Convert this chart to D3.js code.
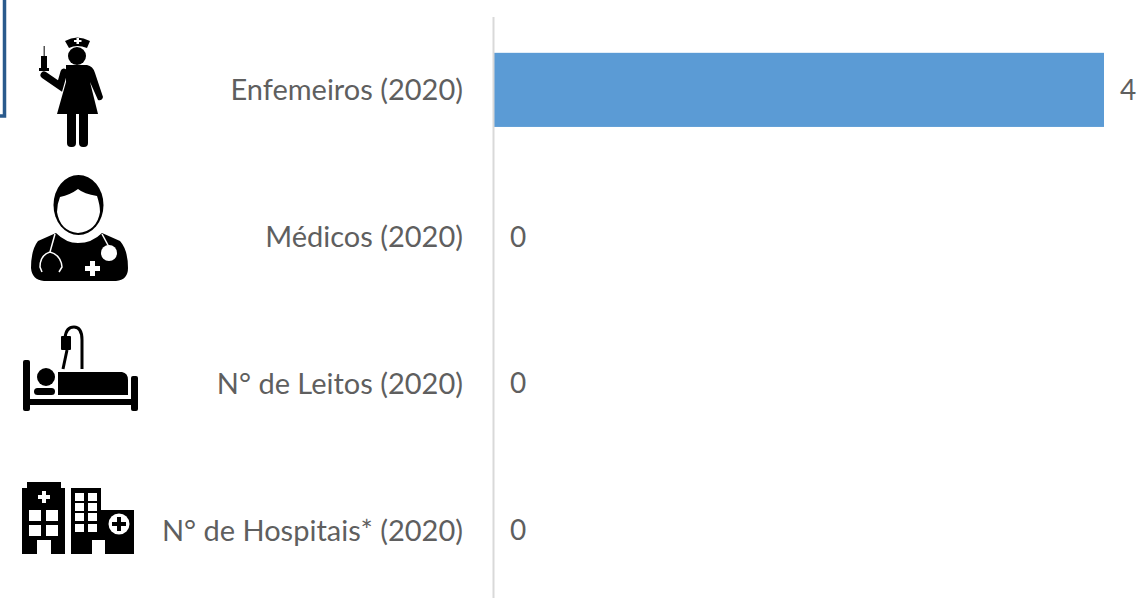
<!DOCTYPE html>
<html>
<head>
<meta charset="utf-8">
<script src="https://cdnjs.cloudflare.com/ajax/libs/d3/7.8.5/d3.min.js"></script>
<style>
  html, body { margin: 0; padding: 0; background: #fff; overflow: hidden; }
  text { font-family: Lato, "Open Sans", sans-serif; fill: #5f5f5f; }
</style>
</head>
<body>
<div id="chart"></div>
<script>
// Chart data
var categories = ["Enfemeiros (2020)", "Médicos (2020)", "N° de Leitos (2020)", "N° de Hospitais* (2020)"];
var values = [4, 0, 0, 0];

var svgWidth = 1142;
var svgHeight = 598;
var axisX = 494;

var svg = d3.select("#chart").append("svg")
  .attr("width", svgWidth)
  .attr("height", svgHeight)
  .style("display", "block");

// Scales
var xScale = d3.scaleLinear().domain([0, 4]).range([axisX, 1104]);
var yScale = d3.scaleBand().domain(categories).range([16.5, 603.5]).paddingInner(0.495).paddingOuter(0.2475);

// Bars
svg.selectAll("rect.bar")
  .data(values)
  .enter()
  .append("rect")
  .attr("class", "bar")
  .attr("x", xScale(0))
  .attr("y", (d, i) => yScale(categories[i]))
  .attr("width", d => xScale(d) - xScale(0))
  .attr("height", yScale.bandwidth())
  .attr("fill", "#5b9bd5");

// Category axis
var leftAxis = d3.axisLeft(yScale).tickSize(0).tickPadding(30);
var axisGroup = svg.append("g")
  .attr("transform", `translate(${axisX - 1}, 0)`)
  .call(leftAxis);
axisGroup.select(".domain").attr("stroke", "#d9d9d9").attr("stroke-width", 2);
axisGroup.selectAll("text")
  .style("font-size", "29px")
  .attr("dy", "0.36em");

// Value labels
svg.selectAll("text.value")
  .data(values)
  .enter()
  .append("text")
  .attr("class", "value")
  .attr("x", d => xScale(d) + 16)
  .attr("y", (d, i) => yScale(categories[i]) + yScale.bandwidth() / 2)
  .attr("dy", "0.36em")
  .style("font-size", "28px")
  .text(d => d);

// Corner of the neighbouring box, cut by the crop
svg.append("path")
  .attr("d", "M4.5,0V116H0")
  .attr("fill", "none")
  .attr("stroke", "#2a5a8c")
  .attr("stroke-width", 3.5);

// Nurse icon
var nurse = svg.append("g").attr("fill", "#000");
nurse.append("path").attr("d", "M65,41Q77,34 90,41L87,48Q77,44 69,48Z");
nurse.append("path").attr("d", "M74,40h2.5v-2h2.5v2h2.5v2h-2.5v2h-2.5v-2h-2.5Z").attr("fill", "#fff");
nurse.append("circle").attr("cx", 77).attr("cy", 56).attr("r", 9);
nurse.append("rect").attr("x", 43.5).attr("y", 46).attr("width", 1.5).attr("height", 12).attr("fill", "#555");
nurse.append("rect").attr("x", 41).attr("y", 56).attr("width", 6).attr("height", 13);
nurse.append("rect").attr("x", 39).attr("y", 68).attr("width", 10).attr("height", 3);
nurse.append("path").attr("d", "M44,75L60,86L64,72").attr("fill", "none").attr("stroke", "#000").attr("stroke-width", 7).attr("stroke-linecap", "round");
nurse.append("path").attr("d", "M66,65H87Q93,66 95,73L103,97Q102,101 98,100L90,82L98,114H57L66,82Z");
nurse.append("rect").attr("x", 67).attr("y", 110).attr("width", 9).attr("height", 37).attr("rx", 4);
nurse.append("rect").attr("x", 79).attr("y", 110).attr("width", 9).attr("height", 37).attr("rx", 4);

// Doctor icon
var doctor = svg.append("g");
doctor.append("path")
  .attr("d", "M56,233L38,241Q31,250 31,268Q32,280 44,281H116Q128,280 128,268Q128,250 120,241L102,233Q92,243 78,243Q66,243 56,233Z")
  .attr("fill", "#000");
doctor.append("ellipse").attr("cx", 78.5).attr("cy", 205).attr("rx", 25).attr("ry", 30).attr("fill", "#000");
doctor.append("path")
  .attr("d", "M60,197Q70,195 78,189Q84,194 97,196Q100,205 100,212Q97,231 78,233Q60,231 57,212Q57,204 60,197Z")
  .attr("fill", "#fff");
doctor.append("path")
  .attr("d", "M55,234L50,252Q40,255 40,267L42,272M50,252Q61,255 62,267L59,272")
  .attr("fill", "none").attr("stroke", "#fff").attr("stroke-width", 1.5);
doctor.append("path")
  .attr("d", "M102,234L109,247")
  .attr("fill", "none").attr("stroke", "#fff").attr("stroke-width", 1.5);
doctor.append("circle").attr("cx", 109).attr("cy", 253).attr("r", 8).attr("fill", "#fff");
doctor.append("path").attr("d", "M90,261h5v5h5v5h-5v5h-5v-5h-5v-5h5Z").attr("fill", "#fff");

// Bed icon
var bed = svg.append("g").attr("fill", "#000");
bed.append("rect").attr("x", 23).attr("y", 360).attr("width", 7).attr("height", 51).attr("rx", 2);
bed.append("rect").attr("x", 131).attr("y", 376).attr("width", 7).attr("height", 35).attr("rx", 2);
bed.append("rect").attr("x", 23).attr("y", 399).attr("width", 115).attr("height", 6);
bed.append("circle").attr("cx", 46).attr("cy", 377).attr("r", 9);
bed.append("rect").attr("x", 34).attr("y", 388).attr("width", 21).attr("height", 7).attr("rx", 3.5);
bed.append("path").attr("d", "M58,372H122Q128,373 128,380V395H58Z");
bed.append("rect").attr("x", 61).attr("y", 336).attr("width", 10).attr("height", 14).attr("rx", 1);
bed.append("path")
  .attr("d", "M82,369V340Q82,327 74,327Q66,327 65,338M67,350L63,369")
  .attr("fill", "none").attr("stroke", "#000").attr("stroke-width", 3);

// Hospital icon
var hospital = svg.append("g").attr("fill", "#000");
hospital.append("path").attr("d", "M27,482H61V488H65V554H22V488H27Z");
hospital.append("path").attr("d", "M71,488H101V510H134V554H71Z");
var white = hospital.append("g").attr("fill", "#fff");
white.append("path").attr("d", "M42,491h4v4h4v4h-4v4h-4v-4h-4v-4h4Z");
[[29, 510], [46, 510], [29, 525], [46, 525]].forEach(function(w) {
  white.append("rect").attr("x", w[0]).attr("y", w[1]).attr("width", 12).attr("height", 11);
});
white.append("rect").attr("x", 37).attr("y", 540).attr("width", 14).attr("height", 14);
[493, 503, 513, 524].forEach(function(wy) {
  white.append("rect").attr("x", 75).attr("y", wy).attr("width", 9).attr("height", 8);
  white.append("rect").attr("x", 88).attr("y", wy).attr("width", 9).attr("height", 8);
});
white.append("rect").attr("x", 92).attr("y", 540).attr("width", 13).attr("height", 14);
white.append("circle").attr("cx", 119).attr("cy", 524).attr("r", 10.5);
hospital.append("path").attr("d", "M117,517h4v5h5v4h-5v5h-4v-5h-5v-4h5Z");
</script>
</body>
</html>
